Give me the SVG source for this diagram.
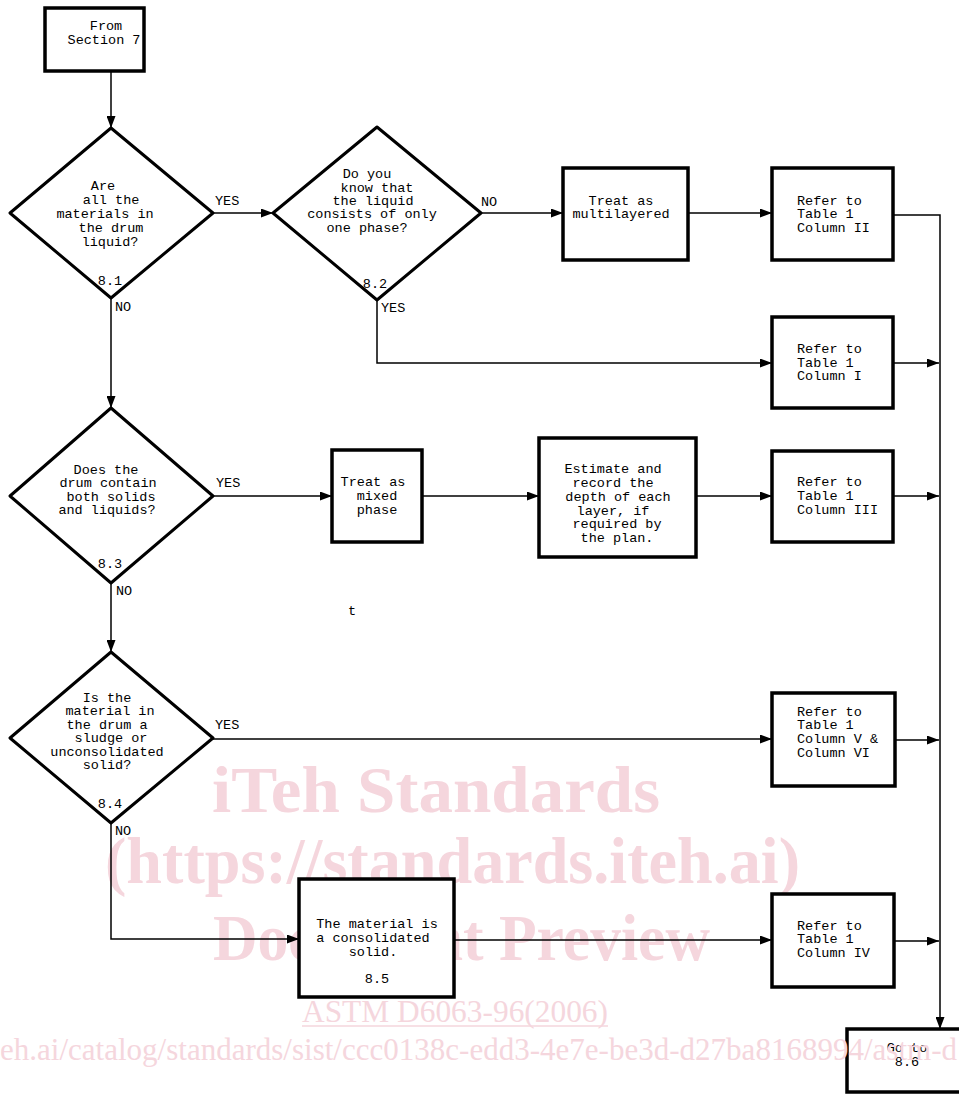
<svg xmlns="http://www.w3.org/2000/svg" width="959" height="1094" viewBox="0 0 959 1094">
<defs>
<style>
.t{font-family:"Liberation Mono","DejaVu Sans Mono",monospace;font-size:13.5px;fill:#000}
.m{text-anchor:middle}
.box{fill:#fff;stroke:#000;stroke-width:3.5}
.dia{fill:#fff;stroke:#000;stroke-width:3;stroke-linejoin:round}
.c{fill:none;stroke:#000;stroke-width:1.5}
.wm{font-family:"Liberation Serif","Times New Roman",serif;fill:#f5d6dd}
.wb{font-weight:bold;font-size:66px}
</style>
<marker id="ah" viewBox="0 0 12 9" refX="12" refY="4.5" markerWidth="12" markerHeight="9" markerUnits="userSpaceOnUse" orient="auto">
<path d="M0,0 L12,4.5 L0,9 z" fill="#000"/>
</marker>
</defs>
<rect width="959" height="1094" fill="#fff"/>

<g id="watermark">
<text class="wm wb" x="212" y="812" textLength="448" lengthAdjust="spacingAndGlyphs">iTeh Standards</text>
<text class="wm wb" x="105" y="883" textLength="695" lengthAdjust="spacingAndGlyphs">(https://standards.iteh.ai)</text>
<text class="wm wb" x="213" y="960" textLength="497" lengthAdjust="spacingAndGlyphs">Document Preview</text>
<text class="wm" x="302" y="1022" font-size="32" textLength="306" lengthAdjust="spacingAndGlyphs">ASTM D6063-96(2006)</text>
<line x1="302" y1="1026" x2="608" y2="1026" stroke="#f5d6dd" stroke-width="1.5"/>
</g>

<g id="connectors">
<path class="c" d="M111,71 V128" marker-end="url(#ah)"/>
<path class="c" d="M213,213 H273" marker-end="url(#ah)"/>
<path class="c" d="M481,213 H563" marker-end="url(#ah)"/>
<path class="c" d="M688,213 H772" marker-end="url(#ah)"/>
<path class="c" d="M893,215 H940 V1029" marker-end="url(#ah)"/>
<path class="c" d="M377,300 V363 H772" marker-end="url(#ah)"/>
<path class="c" d="M893,363 H939" marker-end="url(#ah)"/>
<path class="c" d="M111,298 V408" marker-end="url(#ah)"/>
<path class="c" d="M213,496 H332" marker-end="url(#ah)"/>
<path class="c" d="M422,496 H539" marker-end="url(#ah)"/>
<path class="c" d="M696,496 H772" marker-end="url(#ah)"/>
<path class="c" d="M893,496 H939" marker-end="url(#ah)"/>
<path class="c" d="M111,583 V652" marker-end="url(#ah)"/>
<path class="c" d="M213,739 H772" marker-end="url(#ah)"/>
<path class="c" d="M895,740 H939" marker-end="url(#ah)"/>
<path class="c" d="M111,823 V939 H299" marker-end="url(#ah)"/>
<path class="c" d="M454,940 H772" marker-end="url(#ah)"/>
<path class="c" d="M894,941 H939" marker-end="url(#ah)"/>
</g>

<g id="start">
<rect class="box" x="45" y="8" width="99" height="63"/>
<text class="t m" x="106" y="30">From</text>
<text class="t m" x="104" y="44">Section 7</text>
</g>

<g id="d81">
<polygon class="dia" points="111,128 213,213 111,298 10,213"/>
<text class="t m" x="103" y="190">Are</text>
<text class="t m" x="111" y="204">all the</text>
<text class="t m" x="105" y="218">materials in</text>
<text class="t m" x="111" y="232">the drum</text>
<text class="t m" x="110" y="246">liquid?</text>
<text class="t m" x="110" y="285">8.1</text>
<text class="t" x="215" y="205">YES</text>
<text class="t" x="115" y="311">NO</text>
</g>

<g id="d82">
<polygon class="dia" points="377,127 481,213 377,300 273,213"/>
<text class="t m" x="367" y="178">Do you</text>
<text class="t m" x="377" y="192">know that</text>
<text class="t m" x="373" y="205">the liquid</text>
<text class="t m" x="372" y="218">consists of only</text>
<text class="t m" x="367" y="232">one phase?</text>
<text class="t m" x="375" y="288">8.2</text>
<text class="t" x="481" y="206">NO</text>
<text class="t" x="381" y="312">YES</text>
</g>

<g id="multilayer">
<rect class="box" x="563" y="168" width="125" height="92"/>
<text class="t m" x="621" y="205">Treat as</text>
<text class="t m" x="621" y="218">multilayered</text>
</g>

<g id="col2">
<rect class="box" x="772" y="168" width="121" height="92"/>
<text class="t" x="797" y="205">Refer to</text>
<text class="t" x="797" y="218">Table 1</text>
<text class="t" x="797" y="232">Column II</text>
</g>

<g id="col1">
<rect class="box" x="772" y="317" width="121" height="91"/>
<text class="t" x="797" y="353">Refer to</text>
<text class="t" x="797" y="367">Table 1</text>
<text class="t" x="797" y="380">Column I</text>
</g>

<g id="d83">
<polygon class="dia" points="111,408 213,496 111,583 10,496"/>
<text class="t m" x="106" y="474">Does the</text>
<text class="t m" x="108" y="487">drum contain</text>
<text class="t m" x="111" y="501">both solids</text>
<text class="t m" x="107" y="514">and liquids?</text>
<text class="t m" x="110" y="568">8.3</text>
<text class="t" x="216" y="487">YES</text>
<text class="t" x="116" y="595">NO</text>
</g>

<g id="mixed">
<rect class="box" x="332" y="450" width="90" height="92"/>
<text class="t m" x="373" y="486">Treat as</text>
<text class="t m" x="377" y="500">mixed</text>
<text class="t m" x="377" y="514">phase</text>
</g>

<g id="estimate">
<rect class="box" x="539" y="438" width="157" height="119"/>
<text class="t m" x="613" y="473">Estimate and</text>
<text class="t m" x="613" y="487">record the</text>
<text class="t m" x="618" y="501">depth of each</text>
<text class="t m" x="613" y="515">layer, if</text>
<text class="t m" x="617" y="528">required by</text>
<text class="t m" x="617" y="542">the plan.</text>
</g>

<g id="col3">
<rect class="box" x="772" y="451" width="121" height="91"/>
<text class="t" x="797" y="486">Refer to</text>
<text class="t" x="797" y="500">Table 1</text>
<text class="t" x="797" y="514">Column III</text>
</g>

<text class="t" x="348" y="615">t</text>

<g id="d84">
<polygon class="dia" points="111,652 213,738 111,823 10,738"/>
<text class="t m" x="107" y="702">Is the</text>
<text class="t m" x="110" y="715">material in</text>
<text class="t m" x="107" y="729">the drum a</text>
<text class="t m" x="111" y="742">sludge or</text>
<text class="t m" x="107" y="756">unconsolidated</text>
<text class="t m" x="107" y="769">solid?</text>
<text class="t m" x="110" y="808">8.4</text>
<text class="t" x="215" y="729">YES</text>
<text class="t" x="115" y="835">NO</text>
</g>

<g id="col56">
<rect class="box" x="772" y="693" width="123" height="93"/>
<text class="t" x="797" y="716">Refer to</text>
<text class="t" x="797" y="729">Table 1</text>
<text class="t" x="797" y="743">Column V &amp;</text>
<text class="t" x="797" y="757">Column VI</text>
</g>

<g id="consolidated">
<rect class="box" x="299" y="879" width="155" height="118"/>
<text class="t m" x="377" y="928">The material is</text>
<text class="t m" x="373" y="942">a consolidated</text>
<text class="t m" x="373" y="956">solid.</text>
<text class="t m" x="377" y="983">8.5</text>
</g>

<g id="col4">
<rect class="box" x="772" y="894" width="122" height="93"/>
<text class="t" x="797" y="930">Refer to</text>
<text class="t" x="797" y="943">Table 1</text>
<text class="t" x="797" y="957">Column IV</text>
</g>

<g id="goto">
<rect class="box" x="847" y="1029" width="130" height="63" style="fill:none"/>
<text class="t m" x="907" y="1052">Go to</text>
<text class="t m" x="907" y="1066">8.6</text>
</g>

<text class="wm" x="0" y="1060" font-size="31" textLength="957" lengthAdjust="spacingAndGlyphs">eh.ai/catalog/standards/sist/ccc0138c-edd3-4e7e-be3d-d27ba8168994/astm-d</text>
</svg>
